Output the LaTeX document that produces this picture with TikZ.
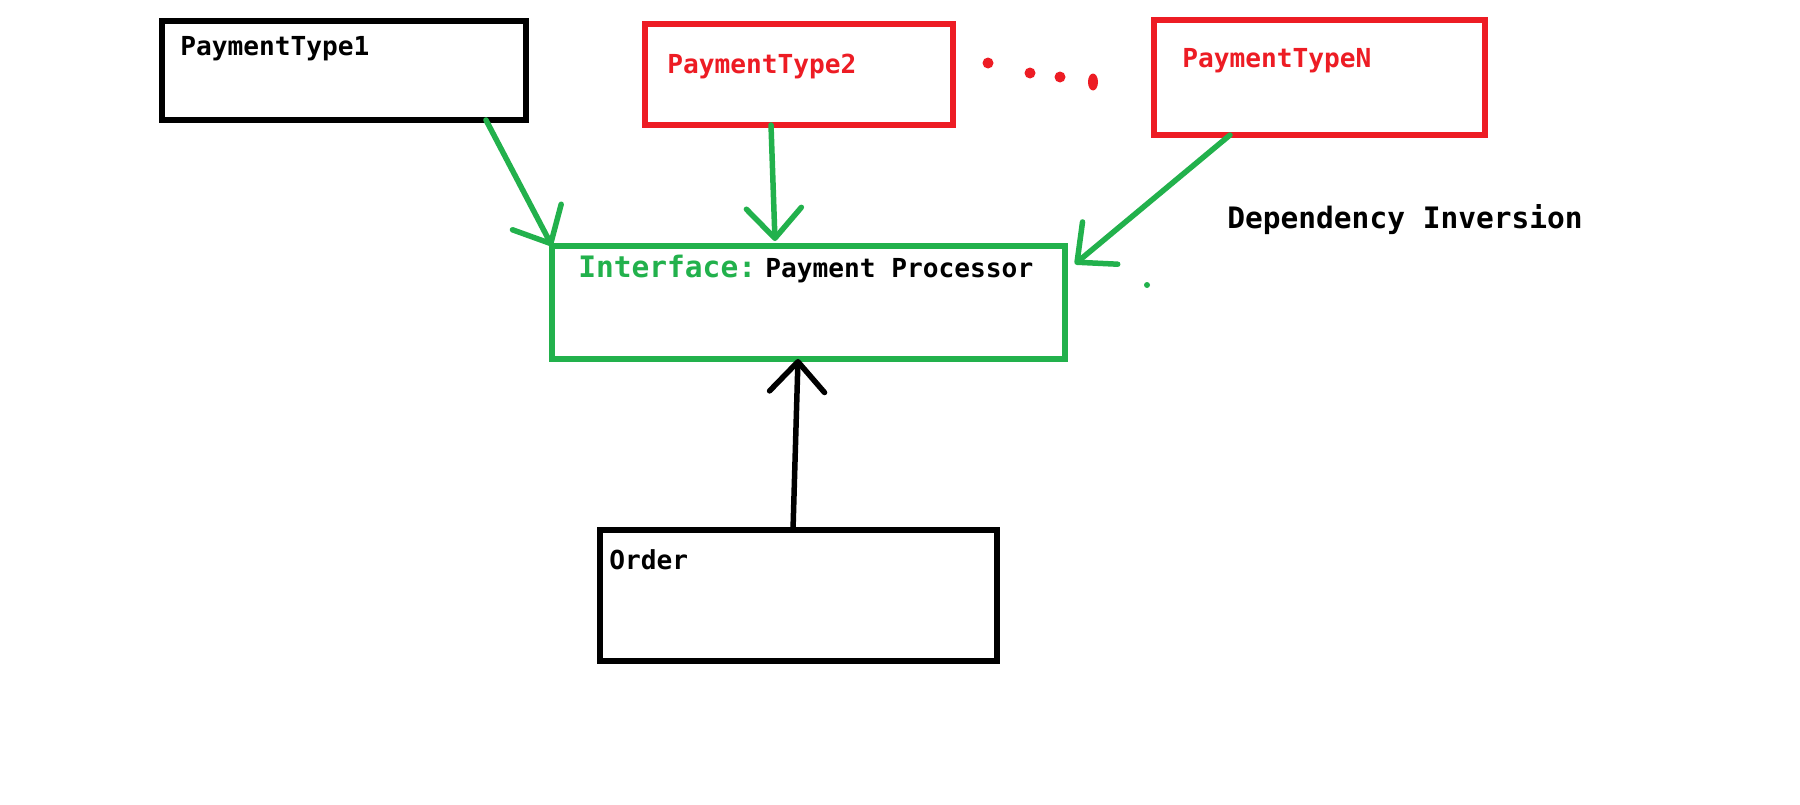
\documentclass[tikz,border=0pt]{standalone}
\usepackage{fontspec}
\setmonofont{DejaVu Sans Mono}
\usetikzlibrary{arrows.meta}
\definecolor{paint_green}{HTML}{22B14C}
\definecolor{paint_red}{HTML}{ED1C24}
\newcommand{\smallsize}{\fontsize{14.9}{18}\selectfont}
\newcommand{\bigsize}{\fontsize{16.8}{20}\selectfont}
\tikzset{class box/.style={draw, line width=0.11cm, inner sep=0pt, outer sep=0pt}}
\tikzset{name text/.style={anchor=base west, inner sep=0pt, font=\ttfamily\bfseries\smallsize}}
\tikzset{hand arrow/.style={-{Straight Barb[length=0.6cm, width=1.1cm, round]}, line width=0.11cm, line cap=round, line join=round}}

\begin{document}
\begin{tikzpicture}[x=0.02cm, y=-0.02cm]

% Draw the white page
\fill[white] (0,0) rectangle (1800,805);

% Draw the payment type boxes
\node[class box, black, minimum width=7.28cm, minimum height=1.98cm] (pt1) at (344,70.5) {};
\node[class box, paint_red, minimum width=6.16cm, minimum height=2.02cm] (pt2) at (799,74.5) {};
\node[class box, paint_red, minimum width=6.62cm, minimum height=2.30cm] (ptN) at (1319.5,77.5) {};
% Draw the interface box
\node[class box, paint_green, minimum width=10.26cm, minimum height=2.26cm] (iface) at (808.5,302.5) {};
% Draw the order box
\node[class box, black, minimum width=7.94cm, minimum height=2.62cm] (order) at (798.5,595.5) {};

% Write the names in the boxes
\node[name text, black] (pt1name) at (180,55) {PaymentType1};
\node[name text, paint_red] (pt2name) at (667,73) {PaymentType2};
\node[name text, paint_red] (ptNname) at (1182,67) {PaymentTypeN};
\node[name text, paint_green, font=\ttfamily\bfseries\bigsize] (ifacekind) at (578,277) {Interface:};
\node[name text, black] (ifacename) at (765,277) {Payment Processor};
\node[name text, black] (ordername) at (609,569) {Order};
\node[name text, black, font=\ttfamily\bfseries\bigsize] (title) at (1227,228) {Dependency Inversion};

% Draw the red dots between the payment types
\foreach \x/\y in {988/63, 1030/73, 1060/77}
  \fill[paint_red] (\x,\y) circle[radius=0.11cm];
\fill[paint_red] (1093,82) ellipse[x radius=0.1cm, y radius=0.17cm];

% Draw the green arrows into the interface
\draw[hand arrow, paint_green] ([xshift=2.84cm]pt1.south) -- (iface.north west);
\draw[hand arrow, paint_green] ([xshift=-0.56cm]pt2.south) -- ([xshift=-0.67cm, yshift=0.1cm]iface.north);
\draw[hand arrow, paint_green] ([xshift=-1.79cm]ptN.south) -- ([xshift=0.2cm, yshift=0.77cm]iface.east);
\fill[paint_green] (1147,285) circle[radius=0.06cm];

% Draw the black arrow from the order
\draw[hand arrow, black] ([xshift=-0.11cm]order.north) -- ([xshift=-0.21cm]iface.south);

\end{tikzpicture}
\end{document}
